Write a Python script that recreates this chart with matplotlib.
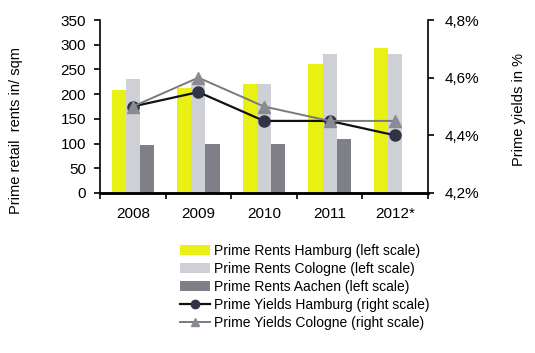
"""Prime retail rents and yields: Hamburg, Cologne, Aachen."""

import matplotlib

matplotlib.use("Agg")
import matplotlib.pyplot as plt
import numpy as np

plt.rcParams["font.family"] = ["Liberation Sans", "DejaVu Sans"]

years = ["2008", "2009", "2010", "2011", "2012*"]
rents_hamburg = [208, 212, 220, 261, 293]
rents_cologne = [230, 225, 220, 281, 281]
rents_aachen = [97, 99, 100, 109, np.nan]
yields_hamburg = [4.50, 4.55, 4.45, 4.45, 4.40]
yields_cologne = [4.50, 4.60, 4.50, 4.45, 4.45]

fig = plt.figure(figsize=(5.35, 3.53), dpi=100)
ax = fig.add_axes([100 / 535, 1 - 193 / 353, 328 / 535, 173 / 353])
ax2 = ax.twinx()

x = np.arange(len(years))
w = 0.215
ax.bar(x - w, rents_hamburg, w, color="#e9f013", label="Prime Rents Hamburg (left scale)")
ax.bar(x, rents_cologne, w, color="#cfd0d6", label="Prime Rents Cologne (left scale)")
ax.bar(x + w, rents_aachen, w, color="#7f7f88", label="Prime Rents Aachen (left scale)")

ax2.plot(x, yields_hamburg, color="#111111", lw=1.6, marker="o", ms=8,
         mfc="#2f3545", mec="#2f3545", label="Prime Yields Hamburg (right scale)")
ax2.plot(x, yields_cologne, color="#7a7a7a", lw=1.4, marker="^", ms=8,
         mfc="#8a8a95", mec="#8a8a95", label="Prime Yields Cologne (right scale)")

ax.set_xlim(-0.5, len(years) - 0.5)
ax.set_ylim(0, 350)
ax.set_yticks(range(0, 351, 50))
ax2.set_ylim(4.2, 4.8)
ax2.set_yticks([4.2, 4.4, 4.6, 4.8])
ax2.set_yticklabels(["4,2%", "4,4%", "4,6%", "4,8%"])

ax.set_xticks(x, years)
ax.set_xticks(np.arange(-0.5, len(years)), minor=True)
ax.tick_params(axis="x", which="major", length=0, pad=10, labelsize=11)
ax.tick_params(axis="x", which="minor", length=4, width=1.2, direction="out")
ax.tick_params(axis="y", length=4, width=1.2, labelsize=11, pad=6)
ax2.tick_params(axis="y", length=4, width=1.2, labelsize=11, pad=8)

for a in (ax, ax2):
    a.spines["top"].set_visible(False)
ax.spines["right"].set_visible(False)
ax2.spines["left"].set_visible(False)
ax2.spines["bottom"].set_linewidth(1.8)
ax.spines["bottom"].set_linewidth(1.8)
ax.spines["left"].set_linewidth(1.2)
ax2.spines["right"].set_linewidth(1.2)

fig.text(16 / 535, 1 - 131 / 353, "Prime retail  rents in/ sqm", rotation=90,
         ha="center", va="center", fontsize=10.5)
fig.text(519 / 535, 1 - 110 / 353, "Prime yields in %", rotation=90,
         ha="center", va="center", fontsize=10.5)

h1, l1 = ax.get_legend_handles_labels()
h2, l2 = ax2.get_legend_handles_labels()
fig.legend(h1 + h2, l1 + l2, loc="upper left", bbox_to_anchor=(174 / 535, 1 - 238 / 353),
           frameon=False, fontsize=10, handlelength=2.2, handletextpad=0.25,
           labelspacing=0.3, borderaxespad=0, markerscale=0.75)

fig.savefig("out.png", dpi=100)
